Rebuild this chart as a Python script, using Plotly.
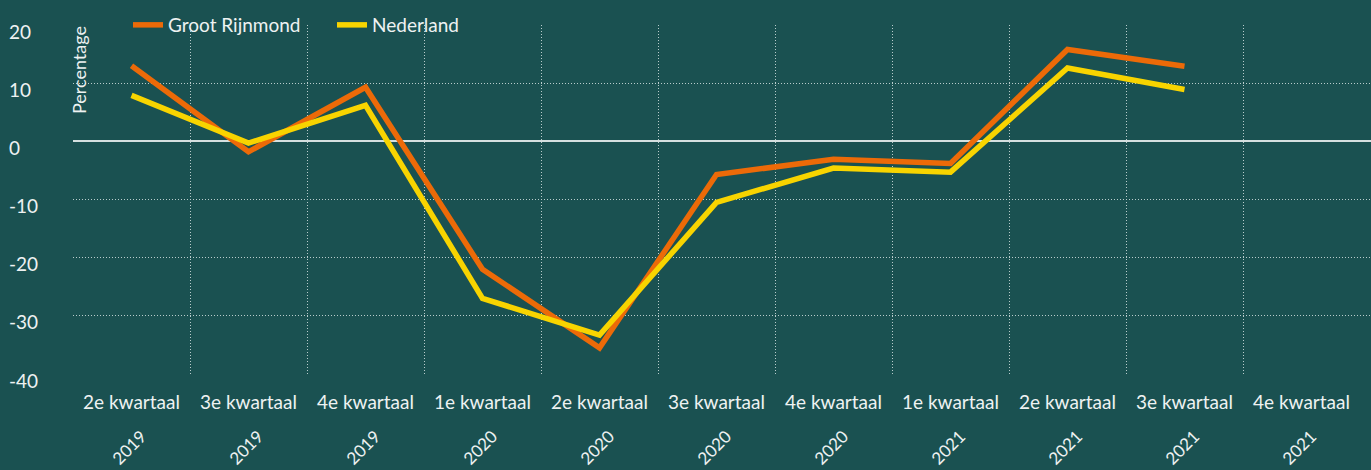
import plotly.graph_objects as go

quarters = ["2e kwartaal", "3e kwartaal", "4e kwartaal", "1e kwartaal", "2e kwartaal", "3e kwartaal",
            "4e kwartaal", "1e kwartaal", "2e kwartaal", "3e kwartaal", "4e kwartaal"]
years = ["2019", "2019", "2019", "2020", "2020", "2020", "2020", "2021", "2021", "2021", "2021"]
groot_rijnmond = [13.0, -1.8, 9.3, -22.0, -35.5, -5.7, -3.1, -3.8, 15.8, 12.9]
nederland = [7.9, -0.3, 6.2, -27.0, -33.3, -10.5, -4.6, -5.3, 12.6, 8.9]
y_ticks = [20, 10, 0, -10, -20, -30, -40]

BG = "#1a5151"
ORANGE = "#ec6a08"
YELLOW = "#f8d400"
TEXT = "#eef2f2"
GRID = "#b9cccc"
FONT = "Lato"

W, H = 1371, 470
ML, MR, MT, MB = 73, 0, 25, 96
PW, PH = W - ML - MR, H - MT - MB

def px_x(px):
    return (px - ML) / PW

def px_y(py):
    return (H - MB - py) / PH

xi = list(range(len(quarters)))

fig = go.Figure()
fig.add_trace(go.Scatter(x=xi[:len(groot_rijnmond)], y=groot_rijnmond, mode="lines", name="Groot Rijnmond",
                         line=dict(color=ORANGE, width=5.5)))
fig.add_trace(go.Scatter(x=xi[:len(nederland)], y=nederland, mode="lines", name="Nederland",
                         line=dict(color=YELLOW, width=5.5)))

annotations = []
for i, yr in enumerate(years):
    annotations.append(dict(x=xi[i], y=0, xref="x", yref="paper", yshift=-73, xshift=-3, text=yr, textangle=-45,
                            showarrow=False, font=dict(family=FONT, size=17, color=TEXT),
                            xanchor="center", yanchor="middle"))
for t in y_ticks:
    annotations.append(dict(x=px_x(7), y=t, xref="paper", yref="y", yshift=-6, text=str(t),
                            showarrow=False, font=dict(family=FONT, size=19, color=TEXT),
                            xanchor="left", yanchor="middle"))
annotations.append(dict(x=px_x(79), y=px_y(70), xref="paper", yref="paper", text="Percentage",
                        textangle=-90, showarrow=False, font=dict(family=FONT, size=18, color=TEXT),
                        xanchor="center", yanchor="middle"))

shapes = [
    dict(type="rect", xref="paper", yref="paper", x0=px_x(73), x1=px_x(468), y0=px_y(45), y1=px_y(0),
         fillcolor=BG, line=dict(width=0), layer="between"),
    dict(type="rect", xref="paper", yref="paper", x0=px_x(73), x1=px_x(113), y0=px_y(120), y1=px_y(20),
         fillcolor=BG, line=dict(width=0), layer="between"),
]

fig.update_layout(
    width=W, height=H,
    margin=dict(l=ML, r=MR, t=MT, b=MB, pad=0),
    paper_bgcolor=BG, plot_bgcolor=BG,
    font=dict(family=FONT, color=TEXT, size=19),
    showlegend=True,
    legend=dict(orientation="h", x=px_x(128), y=px_y(6), xanchor="left", yanchor="top",
                bgcolor="rgba(0,0,0,0)", font=dict(family=FONT, size=19, color=TEXT),
                itemwidth=30, tracegroupgap=0, entrywidth=159, entrywidthmode="pixels"),
    annotations=annotations,
    shapes=shapes,
)
fig.update_xaxes(
    range=[-0.5, -0.5 + PW / 117.0],
    tickmode="array", tickvals=xi, ticktext=quarters,
    showgrid=False, zeroline=False, showline=False, ticks="",
    tickfont=dict(family=FONT, size=19, color=TEXT),
    ticklabelstandoff=15,
    minor=dict(tickmode="array", tickvals=[i + 0.5 for i in xi[:-1]], showgrid=True,
               gridcolor=GRID, gridwidth=1, griddash="1px,2px", ticks=""),
)
fig.update_yaxes(
    range=[-40, 20], tickvals=y_ticks, showticklabels=False,
    showgrid=True, gridcolor=GRID, gridwidth=1, griddash="1px,2px",
    zeroline=True, zerolinecolor="#d5e0e0", zerolinewidth=2, showline=False, ticks="",
)

fig.write_html("out.html", config={"displayModeBar": False},
               post_script="document.body.style.margin='0';document.body.style.overflow='hidden';")
